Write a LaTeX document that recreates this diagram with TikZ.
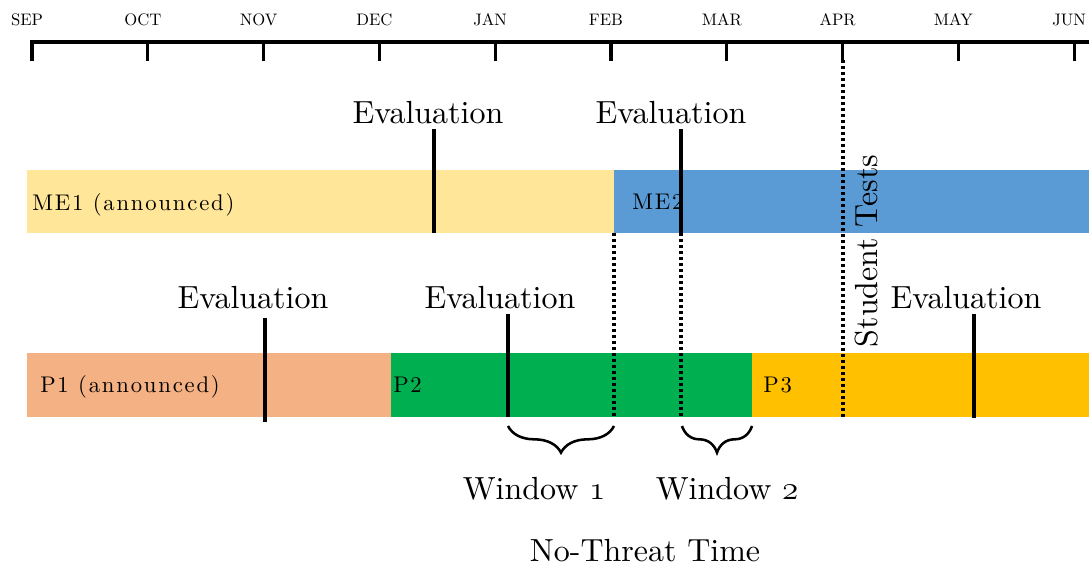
\documentclass[tikz,border=0pt]{standalone}
\usepackage{fontspec}
\setmainfont{lmroman10-regular}[Extension=.otf, BoldFont=lmroman10-bold, ItalicFont=lmroman10-italic]
\newfontfamily\barfont{lmroman10-regular}[Extension=.otf, LetterSpace=8]
\usetikzlibrary{decorations.pathreplacing}

\definecolor{meone}{HTML}{FFE699}
\definecolor{metwo}{HTML}{5B9BD5}
\definecolor{pone}{HTML}{F4B183}
\definecolor{ptwo}{HTML}{00B050}
\definecolor{pthree}{HTML}{FFC000}

\begin{document}
\begin{tikzpicture}[
        x=0.75pt, y=-0.75pt,
        axis/.style={line width=2.3pt, line cap=rect},
        evalline/.style={line width=2.3pt},
        dotline/.style={line width=2.4pt, dash pattern=on 2.1pt off 2.4pt},
        bigtext/.style={font=\fontsize{24}{28}\selectfont, anchor=base, inner sep=0pt},
        monthtext/.style={font=\fontsize{12.5}{14}\selectfont, anchor=base, inner sep=0pt},
        bartext/.style={font=\barfont\fontsize{17}{20}\selectfont, anchor=base west, inner sep=0pt},
        window/.style={decorate, decoration={brace, mirror, amplitude=20pt}, line width=1.9pt},
    ]
    \useasboundingbox (0,0) rectangle (1089,567);

    % month axis
    \draw[axis] (32,59) -- (32,42) -- (1089,42);
    \foreach \m [count=\i from 0] in {SEP,OCT,NOV,DEC,JAN,FEB,MAR,APR,MAY,JUN}{
        \coordinate (tick\i) at ({32+\i*115.8},42);
        \draw[axis] (tick\i) -- ++(0,17);
        \node[monthtext] (month\i) at ({27+\i*115.8},26) {\m};
    }

    % bars
    \fill[meone] (27,170) rectangle (614,233);
    \fill[metwo] (614,170) rectangle (1089,233);
    \fill[pone] (27,353) rectangle (391,417);
    \fill[ptwo] (391,353) rectangle (752,417);
    \fill[pthree] (752,353) rectangle (1089,417);

    \node[bartext] (meonelabel) at (32,210) {ME1 (announced)};
    \node[bartext] (metwolabel) at (632,209) {ME2};
    \node[bartext] (ponelabel) at (40,392) {P1 (announced)};
    \node[bartext] (ptwolabel) at (393,392) {P2};
    \node[bartext] (pthreelabel) at (763,392) {P3};

    % dotted guides
    \coordinate (meend) at (614,233);
    \coordinate (meendbot) at (614,418);
    \coordinate (evalBbot) at (681,233);
    \coordinate (evalBdown) at (681,418);
    \coordinate (aprtop) at (843,60);
    \coordinate (aprbot) at (843,418);
    \draw[dotline] (meend) -- (meendbot);
    \draw[dotline] (evalBbot) -- (evalBdown);
    \draw[dotline] (aprtop) -- (aprbot);

    % evaluations
    \node[bigtext] (evalA) at (428,123) {Evaluation};
    \coordinate (evalAtop) at (434,129);
    \coordinate (evalAbot) at (434,233);
    \draw[evalline] (evalAtop) -- (evalAbot);

    \node[bigtext] (evalB) at (671,123) {Evaluation};
    \coordinate (evalBtop) at (681,129);
    \draw[evalline] (evalBtop) -- (evalBbot);

    \node[bigtext] (evalC) at (253,308) {Evaluation};
    \coordinate (evalCtop) at (265,318);
    \coordinate (evalCbot) at (265,422);
    \draw[evalline] (evalCtop) -- (evalCbot);

    \node[bigtext] (evalD) at (500,308) {Evaluation};
    \coordinate (evalDtop) at (508,314);
    \coordinate (evalDbot) at (508,417);
    \draw[evalline] (evalDtop) -- (evalDbot);

    \node[bigtext] (evalE) at (966,308) {Evaluation};
    \coordinate (evalEtop) at (974,314);
    \coordinate (evalEbot) at (974,418);
    \draw[evalline] (evalEtop) -- (evalEbot);

    \node[bigtext, rotate=90] (tests) at (877,251) {Student Tests};

    % windows
    \coordinate (winAleft) at (508,426);
    \coordinate (winAright) at (614,426);
    \coordinate (winBleft) at (682,426);
    \coordinate (winBright) at (752,426);
    \draw[window] (winAleft) -- (winAright);
    \draw[window] (winBleft) -- (winBright);
    \node[bigtext] (winA) at (534,499) {Window $\mathnormal{1}$};
    \node[bigtext] (winB) at (727,499) {Window $\mathnormal{2}$};
    \node[bigtext] (nothreat) at (645,561) {No-Threat Time};
\end{tikzpicture}
\end{document}
